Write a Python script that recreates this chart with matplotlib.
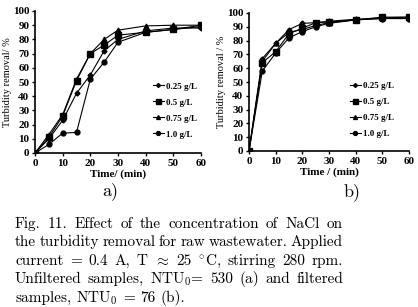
import matplotlib
matplotlib.use("Agg")
import matplotlib.pyplot as plt

time_min = [0, 5, 10, 15, 20, 25, 30, 40, 50, 60]
labels = ["0.25 g/L", "0.5 g/L", "0.75 g/L", "1.0 g/L"]
markers = ["D", "s", "^", "o"]
msizes = [2.5, 4.5, 3.5, 3.5]

a_025 = [0, 10, 23, 42, 55, 72, 80, 86, 88, 88]
a_05 = [0, 11, 26, 51, 70, 76, 83, 85, 87, 90]
a_075 = [0, 13, 27, 52, 70, 80, 86.5, 89.5, 90, 90]
a_10 = [0, 6, 14, 14.5, 52, 64, 78, 85, 87, 89]

b_025 = [0, 67, 78, 88, 92.5, 93, 94, 95.5, 96, 96]
b_05 = [0, 64, 72, 85, 89, 93, 93.5, 95, 97, 97]
b_075 = [0, 65, 78, 86, 88, 91, 93, 95, 96.5, 97]
b_10 = [0, 58, 71, 82, 86.5, 90, 92.5, 95, 96, 96]

yticks = list(range(0, 101, 10))
xticks = [0, 10, 20, 30, 40, 50, 60]

caption_lines = [
    "Fig. 11. Effect of the concentration of NaCl on",
    "the turbidity removal for raw wastewater. Applied",
    "current = 0.4 A, T $\\approx$ 25 $^{\\circ}$C, stirring 280 rpm.",
    "Unfiltered samples, NTU$_0$= 530 (a) and filtered",
    "samples, NTU$_0$ = 76 (b).",
]

plt.rcParams['mathtext.fontset'] = 'cm'
W, H = 418, 307
fig = plt.figure(figsize=(W / 100, H / 100), dpi=100)

def setup(ax, series, xlabel, ylabel, leg_anchor):
    for s, lab, m, ms in zip(series, labels, markers, msizes):
        ax.plot(time_min, s, color='black', lw=0.8, marker=m, ms=ms, label=lab)
    ax.set_xlim(0, 60)
    ax.set_ylim(0, 100)
    ax.set_xticks(xticks)
    ax.set_yticks(yticks)
    for sp in ['top', 'right']:
        ax.spines[sp].set_visible(False)
    ax.spines['left'].set_linewidth(1.2)
    ax.spines['bottom'].set_linewidth(1.2)
    ax.tick_params(labelsize=8, length=2, width=1, pad=2)
    for t in ax.get_xticklabels() + ax.get_yticklabels():
        t.set_fontfamily('Liberation Serif')
        t.set_fontweight('bold')
    ax.set_xlabel(xlabel, fontsize=8, fontfamily='Liberation Serif', fontweight='bold', labelpad=1)
    ax.set_ylabel(ylabel, fontsize=7.5, fontfamily='Liberation Serif', labelpad=1)
    ax.legend(loc='center left', bbox_to_anchor=leg_anchor, frameon=False,
              prop={'family': 'Liberation Serif', 'size': 6.5, 'weight': 'bold'},
              handlelength=1.2, handletextpad=0.3, labelspacing=0.85,
              markerscale=0.8)

ax1 = fig.add_axes([35 / W, 1 - 153 / H, 166 / W, 142 / H])
setup(ax1, [a_025, a_05, a_075, a_10], "Time/ (min)", "Turbidity removal/ %", (0.66, 0.3))
ax2 = fig.add_axes([249 / W, 1 - 151 / H, 160 / W, 138 / H])
setup(ax2, [b_025, b_05, b_075, b_10], "Time / (min)", "Turbidity removal / %", (0.58, 0.3))

fig.text(110 / W, 1 - 191 / H, "a)", fontsize=13, fontfamily='cmr10', ha='center', va='center')
fig.text(352 / W, 1 - 192 / H, "b)", fontsize=13, fontfamily='cmr10', ha='center', va='center')

# justified caption
renderer = fig.canvas.get_renderer()
x0, x1 = 15, 343
base_ys = [228, 246, 265, 283, 302]
fs = 11

def width_of(s):
    t = fig.text(0, 0, s, fontsize=fs, fontfamily='cmr10')
    w = t.get_window_extent(renderer).width
    t.remove()
    return w

space = width_of("a b") - width_of("ab")
for i, (line, yb) in enumerate(zip(caption_lines, base_ys)):
    words = line.split(" ")
    texts = []
    widths = []
    for w in words:
        t = fig.text(0, 0, w, fontsize=fs, fontfamily='cmr10', ha='left', va='baseline')
        texts.append(t)
        widths.append(t.get_window_extent(renderer).width)
    if i < len(caption_lines) - 1 and len(words) > 1:
        gap = (x1 - x0 - sum(widths)) / (len(words) - 1)
    else:
        gap = space
    x = x0
    for t, wd in zip(texts, widths):
        t.set_position((x / W, 1 - yb / H))
        x += wd + gap

fig.savefig("out.png", dpi=100, facecolor='white')
